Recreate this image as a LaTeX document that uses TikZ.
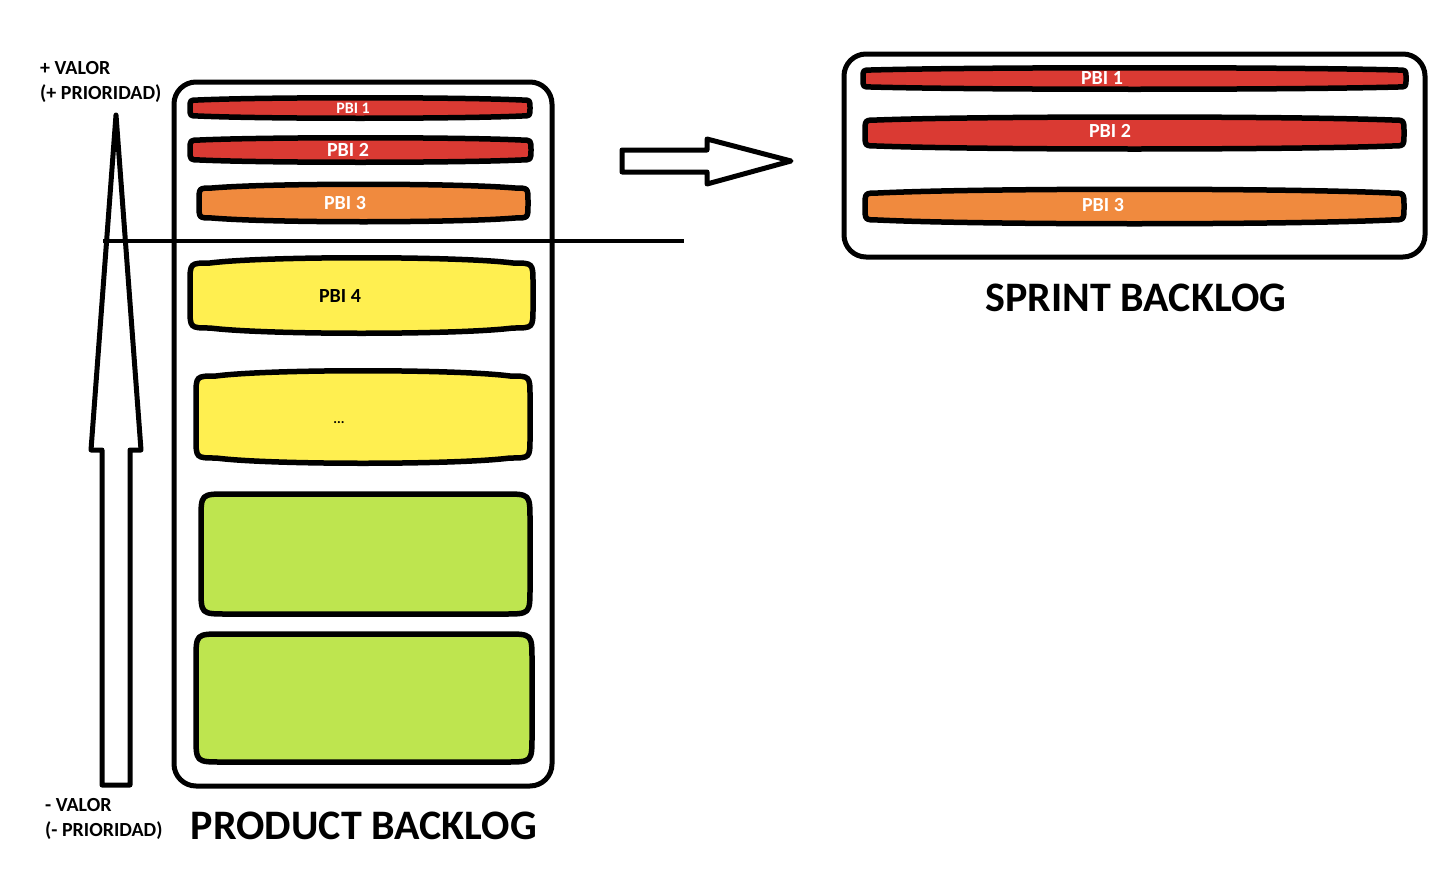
\documentclass[tikz,border=0pt]{standalone}
\usepackage{fontspec}
\setmainfont{Carlito}
\definecolor{pbred}{HTML}{DA3A33}
\definecolor{pborange}{HTML}{F08A3E}
\definecolor{pbyellow}{HTML}{FFEF50}
\definecolor{pbgreen}{HTML}{BEE54F}
\newcommand{\pbshape}[7]{%
\pgfmathsetmacro\pbxa{#1+0.22*(#3-#1)}%
\pgfmathsetmacro\pbxb{#3-0.22*(#3-#1)}%
\draw[itembox,fill=#7] (#1,#2+#5+#6) .. controls (#1,#2+#5) .. (#1+#6,#2+#5)
 .. controls (\pbxa,#2) and (\pbxb,#2) .. (#3-#6,#2+#5)
 .. controls (#3,#2+#5) .. (#3,#2+#5+#6) -- (#3,#4-#5-#6)
 .. controls (#3,#4-#5) .. (#3-#6,#4-#5)
 .. controls (\pbxb,#4) and (\pbxa,#4) .. (#1+#6,#4-#5)
 .. controls (#1,#4-#5) .. (#1,#4-#5-#6) -- cycle;}
\begin{document}
\begin{tikzpicture}[x=1pt,y=-1pt,
  container/.style={draw=black,line width=5pt,rounded corners=22pt},
  itembox/.style={draw=black,line width=5.5pt,line join=round},
  blockarrow/.style={draw=black,line width=5pt,fill=white,line join=round},
  lbl/.style={font=\bfseries\fontsize{20}{24}\selectfont,inner sep=0pt},
  title/.style={font=\bfseries\fontsize{42}{48}\selectfont,inner sep=0pt},
  pbiw/.style={font=\bfseries\fontsize{20}{24}\selectfont,text=white,inner sep=0pt},
  pbib/.style={font=\bfseries\fontsize{20}{24}\selectfont,text=black,inner sep=0pt}]
\useasboundingbox (0,0) rectangle (1454,878);
\fill[white] (0,0) rectangle (1454,878);
% product backlog container
\draw[container] (174,82) rectangle (552,786);
\pbshape{190}{97}{530}{119}{3}{8}{pbred}
\pbshape{190}{137}{531}{163}{3}{10}{pbred}
\pbshape{199}{183}{528}{223}{5}{13}{pborange}
\pbshape{190}{256}{533}{335}{7}{20}{pbyellow}
\pbshape{196}{369}{530}{465}{7}{20}{pbyellow}
\pbshape{201}{494}{530}{614}{0}{26}{pbgreen}
\pbshape{196}{634}{532}{762}{0}{26}{pbgreen}
\node[pbiw,font=\bfseries\fontsize{16}{18}\selectfont] (p1) at (353,108) {PBI 1};
\node[pbiw] (p2) at (348,150) {PBI 2};
\node[pbiw] (p3) at (345,203) {PBI 3};
\node[pbib] (p4) at (340,296) {PBI 4};
\node[pbib,font=\bfseries\fontsize{14}{16}\selectfont] (p5) at (339,423) {...};
% priority arrow
\draw[blockarrow] (102,785) -- (102,450) -- (91,450) -- (116,115) -- (141,450) -- (130,450) -- (130,785) -- cycle;
% cut line
\coordinate (cutl) at (103,241);
\coordinate (cutr) at (684,241);
\draw[line width=3.5pt] (cutl) -- (cutr);
% right block arrow
\draw[blockarrow] (622,150) -- (707,150) -- (707,139) -- (791,161) -- (707,184) -- (707,172) -- (622,172) -- cycle;
% sprint backlog container
\draw[container] (844,54) rectangle (1425,257);
\pbshape{863}{67}{1406}{90}{3}{8}{pbred}
\pbshape{865}{116}{1404}{150}{4}{12}{pbred}
\pbshape{865}{188}{1404}{225}{5}{13}{pborange}
\node[pbiw] (s1) at (1102,78) {PBI 1};
\node[pbiw] (s2) at (1110,131) {PBI 2};
\node[pbiw] (s3) at (1103,205) {PBI 3};
% labels
\node[lbl,anchor=base west] (vup) at (40,74) {+ VALOR};
\node[lbl,anchor=base west] (pup) at (40,99) {(+ PRIORIDAD)};
\node[lbl,anchor=base west] (vdn) at (45,811) {- VALOR};
\node[lbl,anchor=base west] (pdn) at (45,836) {(- PRIORIDAD)};
\node[title,anchor=base] (pb) at (364,839) {PRODUCT BACKLOG};
\node[title,anchor=base] (sb) at (1136,311) {SPRINT BACKLOG};
\end{tikzpicture}
\end{document}
